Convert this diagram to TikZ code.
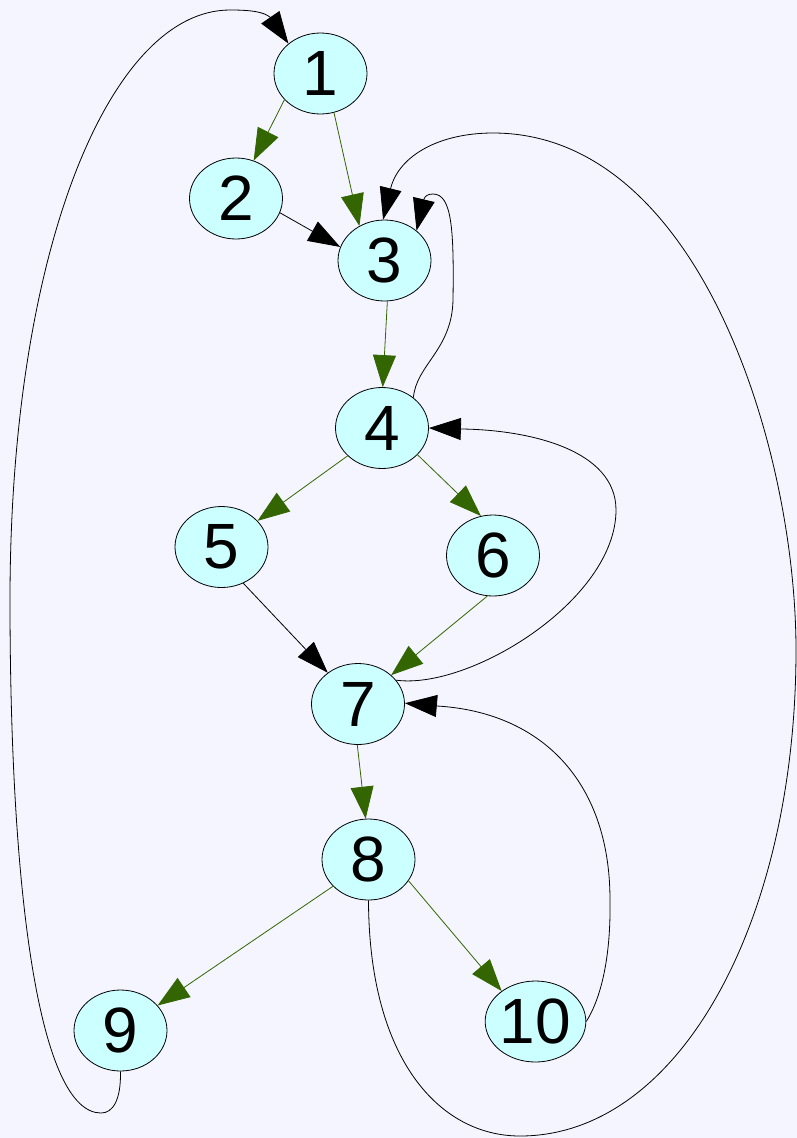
\documentclass[tikz,border=0pt]{standalone}
\usepackage{fontspec}
\setmainfont{Liberation Sans}
\usetikzlibrary{arrows.meta,shapes.geometric}
\definecolor{pagebg}{RGB}{245,245,255}
\definecolor{nodefill}{RGB}{204,255,255}
\definecolor{treegreen}{RGB}{51,102,0}
\begin{document}
\begin{tikzpicture}[x=1pt,y=-1pt,
  vertex/.style={ellipse, draw=black, line width=0.8pt, fill=nodefill,
    minimum width=93pt, minimum height=81pt, inner sep=0pt,
    font=\fontsize{64}{64}\selectfont},
  tree/.style={draw=treegreen, line width=0.8pt,
    -{Triangle[length=32pt,width=23pt,fill=treegreen]}},
  back/.style={draw=black, line width=0.8pt,
    -{Triangle[length=32pt,width=22pt,fill=black]}}]

% page background
\path[fill=pagebg] (0,0) rectangle (797,1138);

% vertices
\node[vertex] (n1)  at (320.5,73.5)   {1};
\node[vertex] (n2)  at (236,198.5)    {2};
\node[vertex] (n3)  at (384.5,260.5)  {3};
\node[vertex] (n4)  at (382,428)      {4};
\node[vertex] (n5)  at (221.5,547)    {5};
\node[vertex] (n6)  at (493,555.5)    {6};
\node[vertex] (n7)  at (358,704)      {7};
\node[vertex] (n8)  at (368.5,859.5)  {8};
\node[vertex] (n9)  at (120.5,1030.5) {9};
\node[vertex] (n10) at (535.5,1021.5) {10};

% tree edges
\draw[tree] (n1.216) -- (n2.65);
\draw[tree] (n1.289) -- (n3.126);
\draw[tree] (n3.274) -- (n4.89);
\draw[tree] (n4.219) -- (n5.36);
\draw[tree] (n4.323) -- (n6.107);
\draw[tree] (n6.262) -- (n7.41);
\draw[tree] (n7.269) -- (n8.94);
\draw[tree] (n8.217) -- (n9.34);
\draw[tree] (n8.332) -- (n10.138);

% other edges
\draw[back] (n2.342) -- (n3.163);
\draw[back] (n5.301) -- (n7.134);
\draw[back] (n4.44) .. controls (416,365) and (452,350) .. (453,300)
  .. controls (454,230) and (452,194) .. (433,194)
  .. controls (428,194) and (425,196) .. (424,199) -- (n3.43);
\draw[back] (n7.32) .. controls (470,690) and (616,600) .. (616,510)
  .. controls (616,450) and (530,430) .. (462,429) -- (n4.0);
\draw[back] (n10.0) .. controls (600,1000) and (611,960) .. (610,900)
  .. controls (610,780) and (540,712) .. (437,706) -- (n7.1);
\draw[back] (n8.270) .. controls (369,1060) and (440,1136) .. (520,1136)
  .. controls (680,1136) and (796,920) .. (796,650)
  .. controls (796,450) and (700,133) .. (493,133)
  .. controls (440,133) and (400,155) .. (391,187) -- (n3.92);
\draw[back] (n9.270) .. controls (121,1100) and (113,1113) .. (101,1113)
  .. controls (40,1113) and (10,900) .. (10,600)
  .. controls (10,250) and (110,10) .. (230,10)
  .. controls (252,10) and (264,12) .. (270.5,17.5) -- (n1.137);
\end{tikzpicture}
\end{document}
